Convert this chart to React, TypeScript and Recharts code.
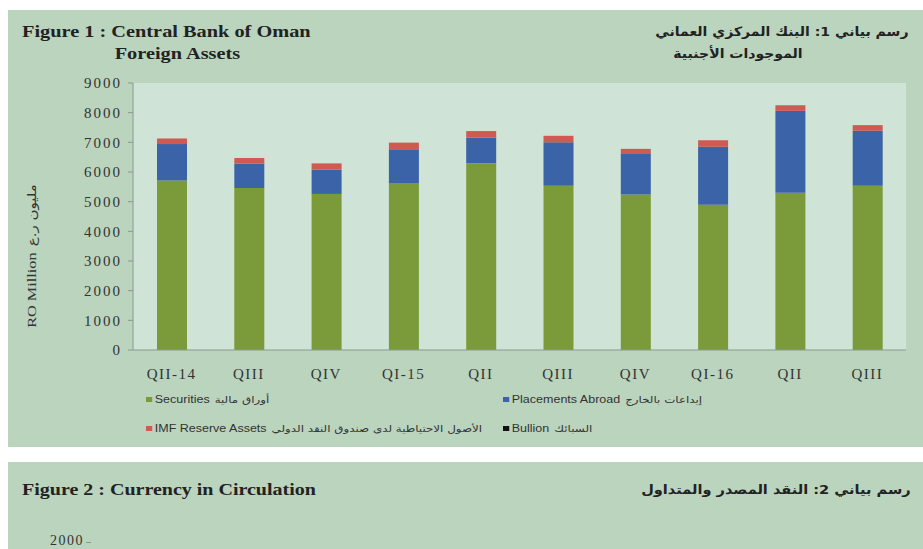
import { Bar, BarChart, CartesianGrid, XAxis, YAxis } from "recharts";

const quarters = ["QII-14", "QIII", "QIV", "QI-15", "QII", "QIII", "QIV", "QI-16", "QII", "QIII"];
const securities = [5710, 5460, 5260, 5630, 6290, 5540, 5240, 4900, 5300, 5540];
const placementsAbroad = [1230, 830, 820, 1140, 870, 1460, 1390, 1950, 2760, 1850];
const imfReserve = [190, 180, 210, 220, 220, 220, 150, 220, 190, 190];
const bullion = [1, 1, 1, 1, 1, 1, 1, 1, 1, 1];
const yTicks = [0, 1000, 2000, 3000, 4000, 5000, 6000, 7000, 8000, 9000];

const data = quarters.map((q, i) => ({
  quarter: q,
  securities: securities[i],
  placements: placementsAbroad[i],
  imf: imfReserve[i],
  bullion: bullion[i],
}));

const panelBg = "#bad4be";
const plotBg = "#cfe3d6";
const serif = "'Liberation Serif', 'DejaVu Serif', serif";
const arabic = "'DejaVu Sans', sans-serif";

// the source image is stretched sideways, so texts get a scaleX
const stretch = (s: number, origin = "left") => ({
  transform: `scaleX(${s})`,
  transformOrigin: origin,
});

function LegendItem({ colour, en, ar }: { colour: string; en: string; ar: string }) {
  return (
    <div style={{ display: "flex", alignItems: "center", fontSize: 10, color: "#333", whiteSpace: "nowrap", ...stretch(1.25) }}>
      <span style={{ width: 5, height: 5, background: colour, marginRight: 2 }} />
      <span style={{ fontFamily: "'Liberation Sans', Arial, sans-serif" }}>{en}</span>
      <span style={{ fontFamily: arabic, marginLeft: 4, direction: "rtl", fontSize: 9.5 }}>{ar}</span>
    </div>
  );
}

export default function App() {
  return (
    <div
      style={{
        position: "absolute",
        left: 0,
        top: 0,
        width: 923,
        height: 549,
        background: "#fff",
        overflow: "hidden",
      }}
    >
      <div
        style={{
          position: "absolute",
          left: 8,
          top: 10,
          width: 915,
          height: 437,
          background: panelBg,
        }}
      />
      <div style={{ position: "absolute", left: 22, top: 21, fontFamily: serif, fontWeight: "bold", fontSize: 16, color: "#222", lineHeight: "22px", whiteSpace: "nowrap", ...stretch(1.27) }}>
        <div>Figure 1 : Central Bank of Oman</div>
        <div style={{ paddingLeft: 73 }}>Foreign Assets</div>
      </div>
      <div style={{ position: "absolute", right: 14, top: 21, fontFamily: arabic, fontWeight: "bold", fontSize: 13, color: "#222", lineHeight: "22px", direction: "rtl", textAlign: "right", whiteSpace: "nowrap", ...stretch(1.08, "right") }}>
        <div>رسم بياني 1: البنك المركزي العماني</div>
        <div style={{ paddingRight: 98 }}>الموجودات الأجنبية</div>
      </div>
      <div
        style={{
          position: "absolute",
          left: 32,
          top: 256,
          transform: "translate(-50%, -50%) rotate(-90deg) scaleX(1.25)",
          whiteSpace: "nowrap",
          fontSize: 13,
          color: "#333",
        }}
      >
        <span style={{ fontFamily: serif }}>RO Million</span>
        <span style={{ fontFamily: arabic, marginLeft: 5, fontSize: 12 }}>مليون ر.ع</span>
      </div>
      <div style={{ position: "absolute", left: 0, top: 0 }}>
        <BarChart
          width={923}
          height={385}
          data={data}
          margin={{ top: 83, right: 17, left: 73, bottom: 0 }}
          barSize={30}
        >
          <CartesianGrid fill={plotBg} stroke="none" horizontal={false} vertical={false} />
          <XAxis
            dataKey="quarter"
            height={35}
            axisLine={{ stroke: "#8a9a8e" }}
            tickLine={false}
            tick={{ fontSize: 15, fill: "#333", fontFamily: serif, letterSpacing: 1.5 }}
            tickMargin={12}
            interval={0}
          />
          <YAxis
            width={60}
            domain={[0, 9000]}
            ticks={yTicks}
            interval={0}
            axisLine={{ stroke: "#8a9a8e" }}
            tickLine={{ stroke: "#8a9a8e" }}
            tickSize={5}
            tickMargin={6}
            tick={{ fontSize: 15, fill: "#333", fontFamily: serif, letterSpacing: 2 }}
          />
          <Bar dataKey="securities" stackId="a" fill="#7b9b3a" isAnimationActive={false} />
          <Bar dataKey="placements" stackId="a" fill="#3b63a8" isAnimationActive={false} />
          <Bar dataKey="imf" stackId="a" fill="#cf5a52" isAnimationActive={false} />
          <Bar dataKey="bullion" stackId="a" fill="#111" isAnimationActive={false} />
        </BarChart>
      </div>
      <div style={{ position: "absolute", left: 146, top: 394 }}>
        <LegendItem colour="#7b9b3a" en="Securities" ar="أوراق مالية" />
      </div>
      <div style={{ position: "absolute", left: 503, top: 394 }}>
        <LegendItem colour="#3b63a8" en="Placements Abroad" ar="إيداعات بالخارج" />
      </div>
      <div style={{ position: "absolute", left: 146, top: 423 }}>
        <LegendItem colour="#cf5a52" en="IMF Reserve Assets" ar="الأصول الاحتياطية لدى صندوق النقد الدولي" />
      </div>
      <div style={{ position: "absolute", left: 503, top: 423 }}>
        <LegendItem colour="#111" en="Bullion" ar="السبائك" />
      </div>
      <div
        style={{
          position: "absolute",
          left: 8,
          top: 462,
          width: 915,
          height: 100,
          background: panelBg,
        }}
      />
      <div style={{ position: "absolute", left: 22, top: 481, fontFamily: serif, fontWeight: "bold", fontSize: 16, color: "#222", whiteSpace: "nowrap", ...stretch(1.25) }}>
        Figure 2 : Currency in Circulation
      </div>
      <div style={{ position: "absolute", right: 12, top: 482, fontFamily: arabic, fontWeight: "bold", fontSize: 13, color: "#222", direction: "rtl", whiteSpace: "nowrap", ...stretch(1.12, "right") }}>
        رسم بياني 2: النقد المصدر والمتداول
      </div>
      <div style={{ position: "absolute", left: 50, top: 533, fontFamily: serif, fontSize: 14, color: "#333", letterSpacing: 1.5 }}>
        2000
      </div>
      <div style={{ position: "absolute", left: 86, top: 542, width: 5, height: 1, background: "#8a9a8e" }} />
    </div>
  );
}
